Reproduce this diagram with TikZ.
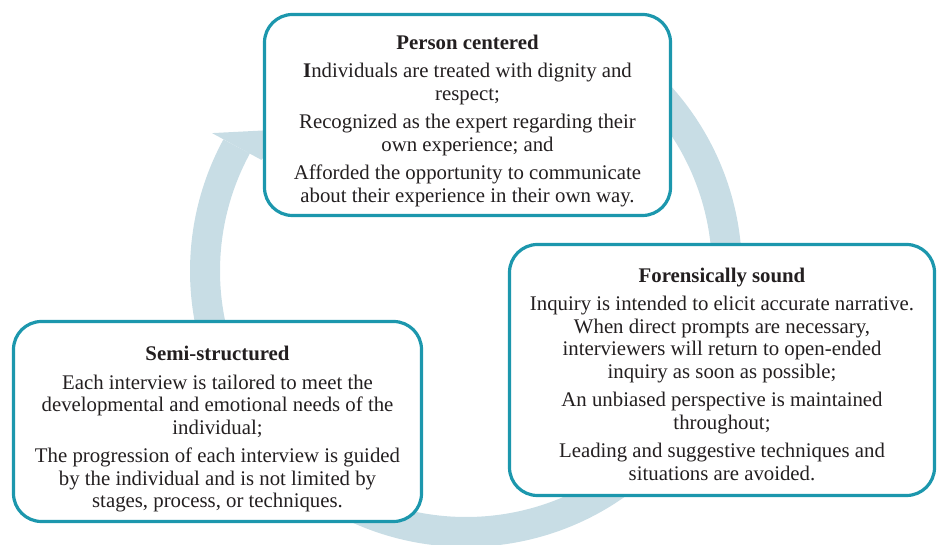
\documentclass[tikz,border=0pt]{standalone}
\usepackage{fontspec}
\setmainfont{Liberation Serif}
\usepackage{tikz}
\usetikzlibrary{positioning, calc}

\definecolor{boxteal}{HTML}{1C97AD}
\definecolor{ringblue}{HTML}{C8DDE5}
\definecolor{bodytext}{HTML}{231F20}

\tikzset{
    box/.style={draw=boxteal, line width=3.2pt, rounded corners=28pt, fill=white},
    boxtext/.style={align=center, inner sep=0pt, text=bodytext,
        font=\fontsize{20.8}{22.5}\selectfont},
    ring/.style={draw=ringblue, line width=30pt},
}
\newcommand{\boxtitle}[1]{\textbf{#1}\\[6pt]}

\begin{document}
\begin{tikzpicture}[x=1pt, y=1pt]
    \useasboundingbox (0,0) rectangle (939,545);

    % circular arrow behind the boxes
    \coordinate (c) at (466,274);
    \draw[ring] ($(c)+(42:261)$) arc[start angle=42, end angle=-208.5, radius=261];
    \fill[ringblue] ($(c)+(151.5:289)$) -- (292,416) -- ($(c)+(151.5:233)$) -- cycle;

    % the three boxes
    \node[box, minimum width=406pt, minimum height=201pt] (person) at (467.5,430) {};
    \node[box, minimum width=425pt, minimum height=251pt] (forensic) at (722,175) {};
    \node[box, minimum width=408pt, minimum height=200pt] (semi) at (217.5,123.5) {};

    \node[boxtext] (persontext) at ([yshift=-6pt]person.center) {
        \boxtitle{Person centered}
        \textbf{I}ndividuals are treated with dignity and\\ respect;\\[6pt]
        Recognized as the expert regarding their\\ own experience; and\\[6pt]
        Afforded the opportunity to communicate\\ about their experience in their own way.};
    \node[boxtext] (forensictext) at ([yshift=-4pt]forensic.center) {
        \boxtitle{Forensically sound}
        Inquiry is intended to elicit accurate narrative.\\ When direct prompts are necessary,\\
        interviewers will return to open-ended\\ inquiry as soon as possible;\\[6pt]
        An unbiased perspective is maintained\\ throughout;\\[6pt]
        Leading and suggestive techniques and\\ situations are avoided.};
    \node[boxtext] (semitext) at ([yshift=-8pt]semi.center) {
        \boxtitle{Semi-structured}
        Each interview is tailored to meet the\\ developmental and emotional needs of the\\ individual;\\[6pt]
        The progression of each interview is guided\\ by the individual and is not limited by\\
        stages, process, or techniques.};
\end{tikzpicture}
\end{document}
